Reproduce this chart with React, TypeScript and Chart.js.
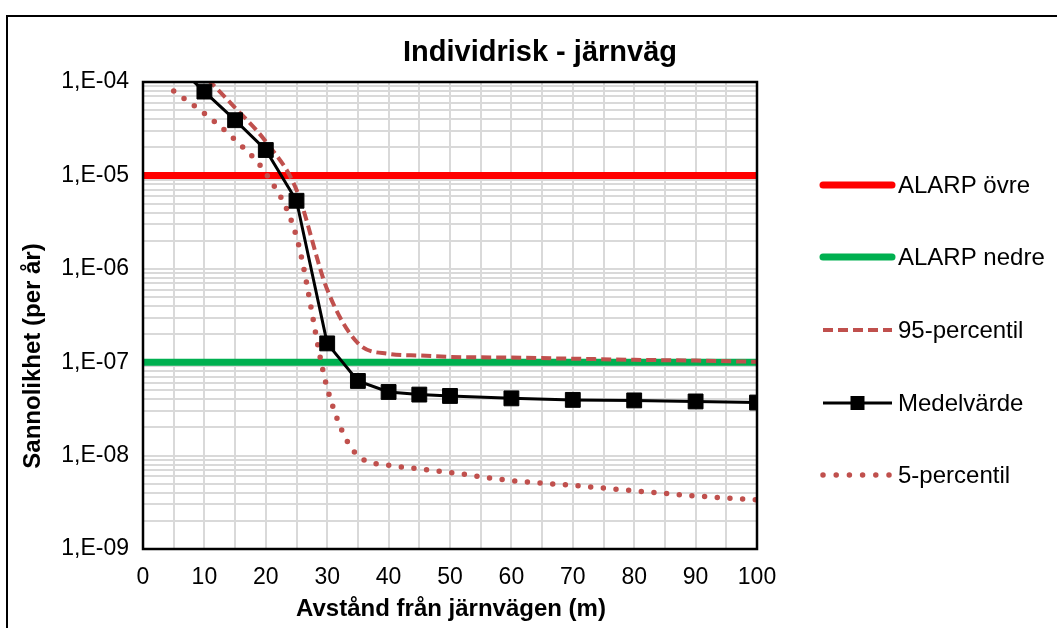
import React, { useEffect, useRef } from 'react';
import { Chart, registerables } from 'chart.js';

Chart.register(...registerables);

// ---- data ----
const distances = [5, 10, 15, 20, 25, 30, 35, 40, 45, 50, 60, 70, 80, 90, 100];
const medelvarde = [1.6e-4, 7.9e-5, 3.9e-5, 1.87e-5, 5.35e-6, 1.59e-7, 6.3e-8, 4.8e-8, 4.5e-8, 4.35e-8, 4.1e-8, 3.95e-8, 3.9e-8, 3.8e-8, 3.7e-8];
const percentil95 = [2.2e-4, 1.15e-4, 5.3e-5, 2.3e-5, 7.0e-6, 6.0e-7, 1.6e-7, 1.23e-7, 1.18e-7, 1.14e-7, 1.12e-7, 1.09e-7, 1.06e-7, 1.04e-7, 1.01e-7];
const percentil5 = [8.0e-5, 4.6e-5, 2.4e-5, 1.05e-5, 2.2e-6, 5.3e-8, 1.0e-8, 7.9e-9, 7.2e-9, 6.6e-9, 5.4e-9, 4.8e-9, 4.2e-9, 3.7e-9, 3.35e-9];
const alarpDistances = [0, 100];
const alarpOvre = [1e-5, 1e-5];
const alarpNedre = [1e-7, 1e-7];

const yDecadeExponents = [-9, -8, -7, -6, -5];
const yTopExponent = -4;
const minorMultipliers = [1, 2, 3, 4, 5, 6, 7, 8, 9];
const xGridStep = 5;
const xLabelStep = 10;

const titleText = 'Individrisk - järnväg';
const xTitleText = 'Avstånd från järnvägen (m)';
const yTitleText = 'Sannolikhet (per år)';
const legendLabels = ['ALARP övre', 'ALARP nedre', '95-percentil', 'Medelvärde', '5-percentil'];

const FONT = '"Liberation Sans", Arial, sans-serif';

const zip = (xs: number[], ys: number[]) => xs.map((x, i) => ({ x, y: ys[i] }));

const decorPlugin = {
  id: 'decor',
  beforeDraw(chart: any) {
    const { ctx, width, height } = chart;
    ctx.save();
    ctx.fillStyle = '#ffffff';
    ctx.fillRect(0, 0, width, height);
    ctx.restore();
  },
  afterDraw(chart: any) {
    const { ctx, chartArea: a } = chart;
    ctx.save();
    // plot border
    ctx.strokeStyle = '#000';
    ctx.lineWidth = 2.5;
    ctx.strokeRect(a.left, a.top, a.right - a.left, a.bottom - a.top);
    // outer chart border
    ctx.lineWidth = 2;
    ctx.strokeRect(7, 16, 2000, 2000);

    ctx.fillStyle = '#000';
    ctx.textAlign = 'center';
    ctx.textBaseline = 'middle';
    ctx.font = `bold 29px ${FONT}`;
    ctx.fillText(titleText, 540, 53);

    ctx.font = `bold 24px ${FONT}`;
    ctx.fillText(xTitleText, (a.left + a.right) / 2 + 1, 609);

    ctx.save();
    ctx.translate(33, 356);
    ctx.rotate(-Math.PI / 2);
    ctx.fillText(yTitleText, 0, 0);
    ctx.restore();

    // legend
    const ds = chart.data.datasets;
    const x0 = 823;
    const x1 = 892;
    const rowYs = [185, 257, 330, 403, 475];
    legendLabels.forEach((label, i) => {
      const d = ds[i];
      const y = rowYs[i];
      ctx.save();
      ctx.strokeStyle = d.borderColor;
      ctx.lineWidth = d.borderWidth;
      ctx.lineCap = d.borderCapStyle || 'butt';
      ctx.setLineDash(d.borderDash || []);
      ctx.beginPath();
      if (d.legendDots) {
        ctx.setLineDash([0, 13.2]);
        ctx.lineCap = 'round';
      }
      ctx.moveTo(x0, y);
      ctx.lineTo(x1, y);
      ctx.stroke();
      if (d.pointStyle === 'rect' && d.pointRadius > 0) {
        ctx.setLineDash([]);
        ctx.fillStyle = d.pointBackgroundColor;
        const s = 14;
        ctx.fillRect((x0 + x1) / 2 - s / 2, y - s / 2, s, s);
      }
      ctx.restore();
      ctx.fillStyle = '#000';
      ctx.textAlign = 'left';
      ctx.textBaseline = 'middle';
      ctx.font = `24px ${FONT}`;
      ctx.fillText(label, 898, y + 1);
    });
    ctx.restore();
  },
};

export default function App() {
  const canvasRef = useRef<HTMLCanvasElement | null>(null);

  useEffect(() => {
    const canvas = canvasRef.current;
    if (!canvas) return;

    const yTicks: number[] = [];
    yDecadeExponents.forEach((e) => {
      minorMultipliers.forEach((m) => yTicks.push(m * Math.pow(10, e)));
    });
    yTicks.push(Math.pow(10, yTopExponent));

    const chart = new Chart(canvas, {
      type: 'line',
      data: {
        datasets: [
          {
            label: legendLabels[0],
            data: zip(alarpDistances, alarpOvre),
            borderColor: '#FF0000',
            backgroundColor: '#FF0000',
            borderWidth: 7,
            borderCapStyle: 'round',
            pointRadius: 0,
            order: 5,
          } as any,
          {
            label: legendLabels[1],
            data: zip(alarpDistances, alarpNedre),
            borderColor: '#00B050',
            backgroundColor: '#00B050',
            borderWidth: 7,
            borderCapStyle: 'round',
            pointRadius: 0,
            order: 4,
          },
          {
            label: legendLabels[2],
            data: zip(distances, percentil95),
            borderColor: '#C0504D',
            backgroundColor: '#C0504D',
            borderWidth: 4,
            borderDash: [10, 5],
            pointRadius: 0,
            cubicInterpolationMode: 'monotone',
            order: 3,
          },
          {
            label: legendLabels[3],
            data: zip(distances, medelvarde),
            borderColor: '#000000',
            backgroundColor: '#000000',
            borderWidth: 3,
            pointStyle: 'rect',
            pointRadius: 10.5,
            pointBackgroundColor: '#000000',
            pointBorderColor: '#000000',
            pointBorderWidth: 1,
            tension: 0,
            order: 1,
          },
          {
            label: legendLabels[4],
            data: zip(distances, percentil5),
            borderColor: '#C0504D',
            backgroundColor: '#C0504D',
            borderWidth: 5.5,
            borderDash: [0, 12.7],
            borderCapStyle: 'round',
            pointRadius: 0,
            cubicInterpolationMode: 'monotone',
            legendDots: true,
            order: 2,
          } as any,
        ],
      },
      options: {
        animation: false,
        responsive: false,
        devicePixelRatio: 1,
        layout: { padding: { left: 0, top: 82, right: 300, bottom: 0 } },
        plugins: {
          legend: { display: false },
          tooltip: { enabled: false },
          title: { display: false },
        },
        scales: {
          x: {
            type: 'linear',
            min: 0,
            max: 100,
            afterFit: (s: any) => {
              s.height = 79;
            },
            ticks: {
              stepSize: xGridStep,
              autoSkip: false,
              maxRotation: 0,
              padding: 15,
              color: '#000',
              font: { family: FONT, size: 23 },
              callback: (v: any) => (Number(v) % xLabelStep === 0 ? String(v) : ''),
            },
            grid: { color: '#d9d9d9', lineWidth: 2, drawTicks: false },
            border: { display: false },
          },
          y: {
            type: 'logarithmic',
            min: Math.pow(10, yDecadeExponents[0]),
            max: Math.pow(10, yTopExponent),
            afterFit: (s: any) => {
              s.width = 143;
            },
            afterBuildTicks: (s: any) => {
              s.ticks = yTicks.map((v) => ({ value: v }));
            },
            ticks: {
              autoSkip: false,
              padding: 14,
              color: '#000',
              font: { family: FONT, size: 23 },
              callback: (v: any) => {
                const l = Math.log10(Number(v));
                if (Math.abs(l - Math.round(l)) > 1e-6) return '';
                const e = -Math.round(l);
                return `1,E-${e < 10 ? '0' + e : e}`;
              },
            },
            grid: { color: '#d9d9d9', lineWidth: 2, drawTicks: false },
            border: { display: false },
          },
        },
      } as any,
      plugins: [decorPlugin],
    });

    return () => chart.destroy();
  }, []);

  return (
    <div style={{ position: 'fixed', left: 0, top: 0, width: 1057, height: 628, background: '#fff' }}>
      <canvas ref={canvasRef} width={1057} height={628} style={{ display: 'block', width: 1057, height: 628 }} />
    </div>
  );
}
